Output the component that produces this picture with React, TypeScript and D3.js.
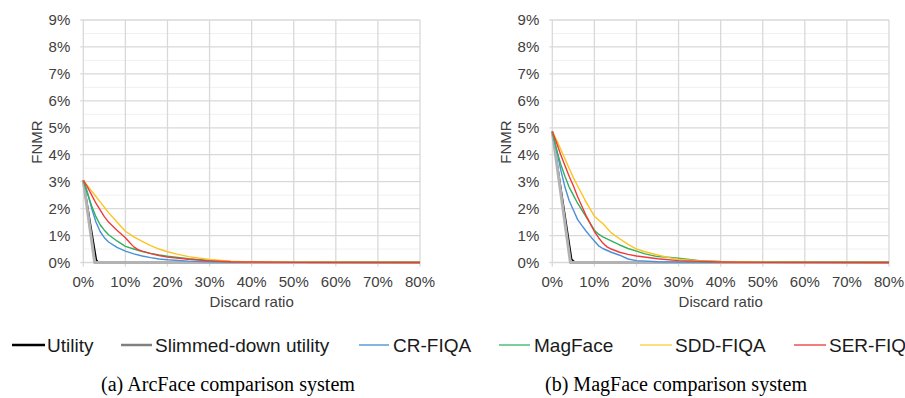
import React from "react";
import * as d3 from "d3";

// ---------- data ----------
const xTicks = [0, 10, 20, 30, 40, 50, 60, 70, 80];
const yTicks = [0, 1, 2, 3, 4, 5, 6, 7, 8, 9];
const yMinor = [0.5, 1.5, 2.5, 3.5, 4.5, 5.5, 6.5, 7.5, 8.5];

const seriesNames = ["Utility", "Slimmed-down utility", "CR-FIQA", "MagFace", "SDD-FIQA", "SER-FIQ"];
const seriesColors = ["#000000", "#b3b3b3", "#4a90d6", "#33b060", "#ffc31f", "#ef3b3b"];
const legendColors = ["#000000", "#808080", "#5b9bd5", "#4cc078", "#ffd54f", "#f05050"];
const seriesWidths = [1.6, 3, 1.4, 1.4, 1.4, 1.4];

// (a) ArcFace comparison system  [discard %, FNMR %]
const arcUtility = [[0, 3.05], [3.1, 0.1], [3.5, 0.02], [4, 0], [80, 0]];
const arcSlimmed = [[0, 3.05], [2.7, 0], [80, 0]];
const arcCR = [[0, 3.05], [1, 2.6], [2, 2.0], [3, 1.5], [4, 1.15], [5, 0.92], [6, 0.76], [8, 0.56], [10, 0.42], [12, 0.32], [14, 0.24], [16, 0.18], [18, 0.13], [20, 0.1], [25, 0.05], [30, 0.03], [35, 0.02], [40, 0.01], [50, 0.005], [80, 0]];
const arcMag = [[0, 3.05], [1, 2.55], [2, 2.1], [3, 1.7], [4, 1.4], [5, 1.2], [6, 1.03], [8, 0.8], [10, 0.6], [12, 0.5], [14, 0.41], [16, 0.34], [18, 0.28], [20, 0.23], [25, 0.14], [30, 0.08], [35, 0.04], [40, 0.02], [50, 0.01], [80, 0]];
const arcSDD = [[0, 3.05], [1, 2.85], [2, 2.65], [3, 2.45], [4, 2.25], [5, 2.05], [6, 1.85], [8, 1.5], [10, 1.16], [12, 0.95], [14, 0.78], [16, 0.63], [18, 0.5], [20, 0.4], [22, 0.32], [25, 0.22], [30, 0.11], [35, 0.05], [40, 0.02], [50, 0.01], [80, 0]];
const arcSER = [[0, 3.05], [1, 2.8], [2, 2.5], [3, 2.2], [4, 1.95], [5, 1.7], [6, 1.5], [8, 1.2], [10, 0.92], [11, 0.74], [12, 0.58], [13, 0.48], [14, 0.42], [16, 0.33], [18, 0.26], [20, 0.2], [25, 0.12], [30, 0.06], [35, 0.03], [40, 0.02], [50, 0.005], [80, 0]];

// (b) MagFace comparison system
const magUtility = [[0, 4.86], [4.6, 0.12], [5.2, 0.03], [6, 0], [80, 0]];
const magSlimmed = [[0, 4.86], [4.3, 0], [80, 0]];
const magCR = [[0, 4.86], [1, 4.2], [2, 3.45], [3, 2.8], [4, 2.3], [5, 1.95], [6, 1.6], [7, 1.38], [8, 1.17], [9, 0.98], [10, 0.8], [11, 0.62], [12, 0.52], [14, 0.38], [16, 0.27], [18, 0.13], [20, 0.07], [25, 0.03], [30, 0.02], [40, 0.01], [80, 0]];
const magMag = [[0, 4.86], [1, 4.2], [2, 3.65], [3, 3.2], [4, 2.8], [5, 2.5], [6, 2.2], [7, 1.95], [8, 1.7], [9, 1.45], [10, 1.2], [11, 1.05], [12, 0.95], [14, 0.8], [16, 0.65], [18, 0.52], [20, 0.42], [22, 0.32], [25, 0.22], [28, 0.19], [30, 0.16], [32, 0.12], [35, 0.07], [40, 0.04], [50, 0.02], [80, 0]];
const magSDD = [[0, 4.86], [1, 4.55], [2, 4.2], [3, 3.85], [4, 3.5], [5, 3.15], [6, 2.85], [7, 2.55], [8, 2.25], [9, 1.98], [10, 1.72], [11, 1.58], [12, 1.45], [14, 1.1], [16, 0.88], [18, 0.67], [20, 0.5], [22, 0.4], [25, 0.28], [28, 0.17], [30, 0.12], [35, 0.06], [40, 0.03], [50, 0.01], [80, 0]];
const magSER = [[0, 4.86], [1, 4.45], [2, 4.0], [3, 3.6], [4, 3.2], [5, 2.85], [6, 2.45], [7, 2.1], [8, 1.75], [9, 1.45], [10, 1.15], [11, 0.92], [12, 0.72], [13, 0.58], [14, 0.5], [16, 0.38], [18, 0.3], [20, 0.24], [25, 0.14], [30, 0.07], [35, 0.04], [40, 0.02], [50, 0.005], [80, 0]];

const arcSeries = [arcUtility, arcSlimmed, arcCR, arcMag, arcSDD, arcSER];
const magSeries = [magUtility, magSlimmed, magCR, magMag, magSDD, magSER];

const captions = ["(a) ArcFace comparison system", "(b) MagFace comparison system"];

// ---------- layout ----------
const W = 905;
const H = 398;
const plotTop = 20;
const plotBottom = 262.5;
const panels = [
  { left: 83.3, right: 420, series: arcSeries, caption: captions[0], capX: 101, capW: 254 },
  { left: 552.3, right: 889, series: magSeries, caption: captions[1], capX: 545, capW: 262 },
];
const legendLayout = [
  [12, 45, 47],
  [121, 152, 155],
  [359, 389, 393],
  [499, 530, 534],
  [640, 672, 675],
  [794, 826, 829],
];

const sans = "'Liberation Sans', Arial, sans-serif";
const serif = "'Liberation Serif', 'Times New Roman', serif";

function Panel({ p }: { p: typeof panels[number] }) {
  const x = d3.scaleLinear().domain([0, 80]).range([p.left, p.right]);
  const y = d3.scaleLinear().domain([0, 9]).range([plotBottom, plotTop]);
  const line = d3
    .line<number[]>()
    .x((d) => x(d[0]))
    .y((d) => y(d[1]));
  return (
    <g>
      {yMinor.map((v) => (
        <line key={"m" + v} x1={p.left} x2={p.right} y1={y(v)} y2={y(v)} stroke="#f0f0f0" strokeWidth={1} />
      ))}
      {yTicks.map((v) => (
        <line key={"h" + v} x1={p.left - 3} x2={p.right} y1={y(v)} y2={y(v)} stroke="#d9d9d9" strokeWidth={1.3} />
      ))}
      {xTicks.map((v) => (
        <line key={"v" + v} x1={x(v)} x2={x(v)} y1={plotTop} y2={plotBottom + 4} stroke="#d9d9d9" strokeWidth={1.3} />
      ))}
      {yTicks.map((v) => (
        <text key={"yt" + v} x={p.left - 13} y={y(v)} dy="0.35em" textAnchor="end" fontFamily={sans} fontSize={15} fill="#404040">
          {v + "%"}
        </text>
      ))}
      {xTicks.map((v) => (
        <text key={"xt" + v} x={x(v)} y={287} textAnchor="middle" fontFamily={sans} fontSize={15} fill="#404040">
          {v + "%"}
        </text>
      ))}
      <text x={(p.left + p.right) / 2} y={307} textAnchor="middle" fontFamily={sans} fontSize={15} fill="#404040">
        Discard ratio
      </text>
      <text
        transform={`translate(${p.left - 47},${142}) rotate(-90)`}
        dy="0.35em"
        textAnchor="middle"
        fontFamily={sans}
        fontSize={15}
        fill="#404040"
      >
        FNMR
      </text>
      {p.series.map((s, i) => (
        <path key={"s" + i} d={line(s) || ""} fill="none" stroke={seriesColors[i]} strokeWidth={seriesWidths[i]} strokeLinejoin="round" />
      ))}
      <text x={p.capX} y={391} fontFamily={serif} fontSize={20} fill="#000" textLength={p.capW} lengthAdjust="spacingAndGlyphs">
        {p.caption}
      </text>
    </g>
  );
}

export default function App() {
  return (
    <svg width={W} height={H} style={{ position: "absolute", left: 0, top: 0, background: "#fff" }}>
      <rect x={0} y={0} width={W} height={H} fill="#fff" />
      {panels.map((p, i) => (
        <Panel key={i} p={p} />
      ))}
      {seriesNames.map((n, i) => (
        <g key={"lg" + i}>
          <line
            x1={legendLayout[i][0]}
            x2={legendLayout[i][1]}
            y1={345}
            y2={345}
            stroke={legendColors[i]}
            strokeWidth={i < 2 ? 2.5 : 1.5}
          />
          <text x={legendLayout[i][2]} y={352} fontFamily={sans} fontSize={19} fill="#1a1a1a">
            {n}
          </text>
        </g>
      ))}
    </svg>
  );
}
